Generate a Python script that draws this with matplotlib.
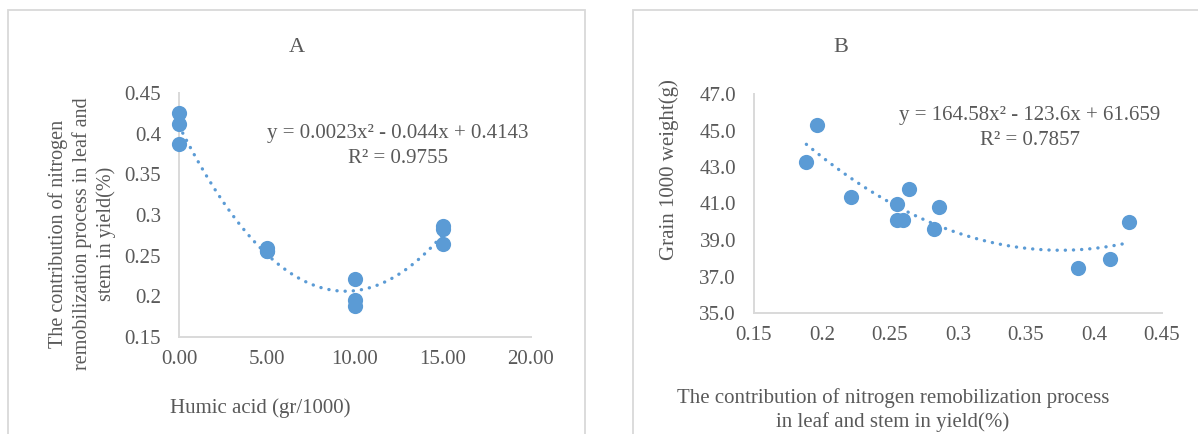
import numpy as np
import matplotlib
matplotlib.use("Agg")
import matplotlib.pyplot as plt
from matplotlib.patches import Rectangle

# ---- data ----
humic_acid = [0, 0, 0, 5, 5, 5, 10, 10, 10, 15, 15, 15]
contribution_a = [0.4255, 0.4115, 0.387, 0.259, 0.2555, 0.2555, 0.221, 0.196, 0.1885, 0.2865, 0.2825, 0.264]

contribution_b = [0.1885, 0.1964, 0.2211, 0.2554, 0.2639, 0.2554, 0.2597, 0.286, 0.2822, 0.388, 0.4115, 0.426]
grain_weight = [43.29, 45.30, 41.37, 41.0, 41.79, 40.12, 40.09, 40.82, 39.63, 37.49, 37.98, 39.99]

a_xticks = [0, 5, 10, 15, 20]
a_xticklabels = ["0.00", "5.00", "10.00", "15.00", "20.00"]
a_yticks = [0.15, 0.2, 0.25, 0.3, 0.35, 0.4, 0.45]
a_yticklabels = ["0.15", "0.2", "0.25", "0.3", "0.35", "0.4", "0.45"]
b_xticks = [0.15, 0.2, 0.25, 0.3, 0.35, 0.4, 0.45]
b_xticklabels = ["0.15", "0.2", "0.25", "0.3", "0.35", "0.4", "0.45"]
b_yticks = [35, 37, 39, 41, 43, 45, 47]
b_yticklabels = ["35.0", "37.0", "39.0", "41.0", "43.0", "45.0", "47.0"]

eq_a = "y = 0.0023x² - 0.044x + 0.4143\nR² = 0.9755"
eq_b = "y = 164.58x² - 123.6x + 61.659\nR² = 0.7857"

# ---- style ----
W, H = 1198, 434
TXT = "#595959"
GRID = "#D9D9D9"
BLUE = "#5B9BD5"
FS = 15
plt.rcParams["font.family"] = ["Liberation Serif", "DejaVu Serif"]

fig = plt.figure(figsize=(W / 100, H / 100), dpi=100)
fig.patch.set_facecolor("white")


def px_axes(l, r, t, b):
    return fig.add_axes([l / W, (H - b) / H, (r - l) / W, (b - t) / H])


# panel borders
fig.patches.append(Rectangle((8 / W, -0.1), (585 - 8) / W, (H - 10) / H + 0.1,
                             transform=fig.transFigure, fill=False, ec=GRID, lw=1.3))
fig.patches.append(Rectangle((633 / W, -0.1), 1.0, (H - 10) / H + 0.1,
                             transform=fig.transFigure, fill=False, ec=GRID, lw=1.3))


def style(ax):
    for s in ["top", "right"]:
        ax.spines[s].set_visible(False)
    for s in ["left", "bottom"]:
        ax.spines[s].set_color(GRID)
        ax.spines[s].set_linewidth(1.4)
    ax.tick_params(length=0, labelsize=FS, labelcolor=TXT)
    ax.tick_params(axis="y", pad=13)
    ax.tick_params(axis="x", pad=9)
    ax.set_facecolor("none")


def trend(ax, x, y):
    c = np.polyfit(x, y, 2)
    xs = np.linspace(min(x), max(x), 200)
    ax.plot(xs, np.polyval(c, xs), color=BLUE, lw=2.4,
            linestyle=(0, (0.05, 2.4)), dash_capstyle="round", zorder=3)


# ---- Panel A ----
axA = px_axes(179, 531, 93, 337)
style(axA)
axA.set_xlim(0, 20)
axA.set_ylim(0.15, 0.45)
axA.set_xticks(a_xticks, a_xticklabels)
axA.set_yticks(a_yticks, a_yticklabels)
trend(axA, humic_acid, contribution_a)
axA.scatter(humic_acid, contribution_a, s=120, color=BLUE, zorder=4, clip_on=False, linewidths=0)

fig.text(297 / W, 1 - 47 / H, "A", fontsize=16, color=TXT, ha="center", va="center")
fig.text(398 / W, 1 - 146 / H, eq_a, fontsize=FS, color=TXT, ha="center", va="center",
         linespacing=1.4)
fig.text(82 / W, 1 - 234 / H,
         "The contribution of nitrogen\nremobilization process in leaf and\nstem in yield(%)",
         fontsize=14.5, color=TXT, ha="center", va="center", rotation=90, linespacing=1.3)
fig.text(260 / W, 1 - 408 / H, "Humic acid (gr/1000)", fontsize=FS, color=TXT,
         ha="center", va="center")

# ---- Panel B ----
axB = px_axes(754, 1162, 94, 313)
style(axB)
axB.set_xlim(0.15, 0.45)
axB.set_ylim(35, 47)
axB.set_xticks(b_xticks, b_xticklabels)
axB.set_yticks(b_yticks, b_yticklabels)
trend(axB, contribution_b, grain_weight)
axB.scatter(contribution_b, grain_weight, s=120, color=BLUE, zorder=4, clip_on=False, linewidths=0)

fig.text(841 / W, 1 - 47 / H, "B", fontsize=16, color=TXT, ha="center", va="center")
fig.text(1030 / W, 1 - 128 / H, eq_b, fontsize=FS, color=TXT, ha="center", va="center",
         linespacing=1.4)
fig.text(669 / W, 1 - 170 / H, "Grain 1000 weight(g)", fontsize=FS, color=TXT,
         ha="center", va="center", rotation=90)
fig.text(893 / W, 1 - 410 / H,
         "The contribution of nitrogen remobilization process\nin leaf and stem in yield(%)",
         fontsize=FS, color=TXT, ha="center", va="center", linespacing=1.3)

fig.savefig("out.png", dpi=100, facecolor="white")
